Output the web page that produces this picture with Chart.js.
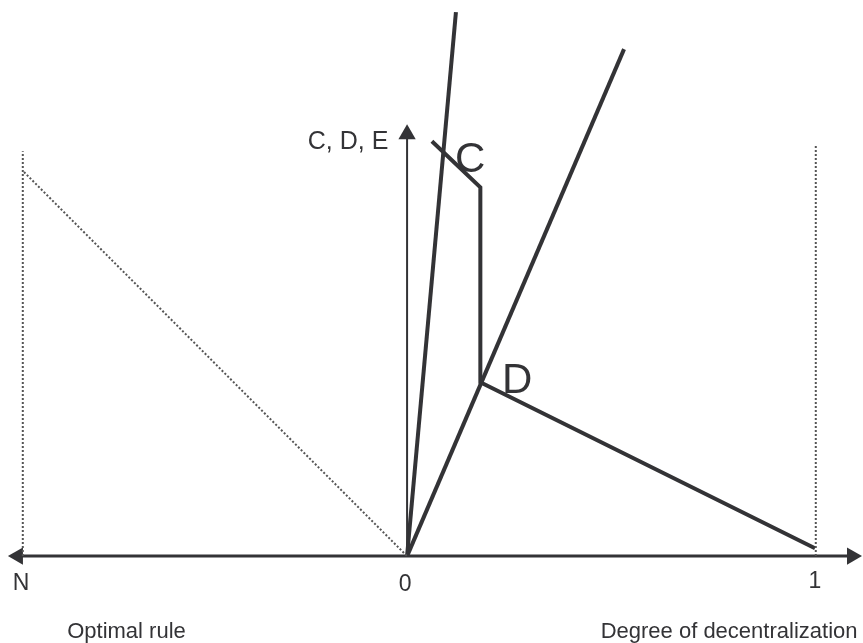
<!DOCTYPE html>
<html>
<head>
<meta charset="utf-8">
<script src="https://cdn.jsdelivr.net/npm/chart.js@4"></script>
<style>
  body { margin: 0; background: #fff; }
  canvas { display: block; }
</style>
</head>
<body>
<canvas id="chart" width="863" height="643"></canvas>
<script>
// x: N on the left, 0 at the vertical axis, 1 on the right
// y: the C, D, E axis
const steepX = [0, 0.120];
const steepY = [0, 1.252];
const shallowX = [0, 0.533];
const shallowY = [0, 1.167];
const pathX = [0.061, 0.180, 0.180, 1.002];
const pathY = [0.955, 0.849, 0.400, 0.018];
const optimalX = [-0.941, 0];
const optimalY = [0.884, 0];
const boundLeftX = [-0.944, -0.944];
const boundLeftY = [0, 0.932];
const boundRightX = [1.004, 1.004];
const boundRightY = [0, 0.948];

const labelText = ['C, D, E', 'C', 'D', 'N', '0', '1', 'Optimal rule', 'Degree of decentralization'];
const labelX = [-0.046, 0.118, 0.233, -0.948, -0.005, 1.002, -0.835, 0.791];
const labelY = [0.936, 0.884, 0.375, -0.078, -0.080, -0.074, -0.188, -0.188];

const ink = '#333336';
const font = "'Liberation Sans', Arial, sans-serif";

function pts(xs, ys) {
    return xs.map((x, i) => ({ x: x, y: ys[i] }));
}

// Text labels placed through the chart scales
const labelPlugin = {
    id: 'labels',
    afterDatasetsDraw(chart) {
        const ctx = chart.ctx;
        const sx = chart.scales.x;
        const sy = chart.scales.y;
        ctx.save();
        ctx.fillStyle = ink;
        ctx.textBaseline = 'alphabetic';
        labelText.forEach((t, i) => {
            const big = (t === 'C' || t === 'D');
            let size = 23;
            if (big) size = 42;
            else if (t === 'C, D, E') size = 25;
            else if (t.length > 8) size = 22;
            ctx.font = size + 'px ' + font;
            if (t === 'C, D, E') ctx.textAlign = 'right';
            else if (big || t === 'Optimal rule') ctx.textAlign = 'left';
            else ctx.textAlign = 'center';
            ctx.fillText(t, sx.getPixelForValue(labelX[i]), sy.getPixelForValue(labelY[i]));
        });
        ctx.restore();
    }
};

const solid = (data, width) => ({
    data: data,
    showLine: true,
    borderColor: ink,
    borderWidth: width,
    pointRadius: 0,
    borderCapStyle: 'butt',
    borderJoinStyle: 'miter'
});

const dotted = (data) => ({
    data: data,
    showLine: true,
    borderColor: '#555',
    borderWidth: 2,
    borderDash: [2, 2],
    pointRadius: 0
});

new Chart(document.getElementById('chart'), {
    type: 'scatter',
    data: {
        datasets: [
            dotted(pts(boundLeftX, boundLeftY)),
            dotted(pts(boundRightX, boundRightY)),
            dotted(pts(optimalX, optimalY)),
            // horizontal axis with arrow heads
            {
                data: [{ x: -0.956, y: 0 }, { x: 1.093, y: 0 }],
                showLine: true,
                borderColor: ink,
                backgroundColor: ink,
                borderWidth: 3,
                pointStyle: 'triangle',
                pointRadius: 10,
                pointBorderWidth: 0,
                rotation: [-90, 90]
            },
            // vertical axis with arrow head
            {
                data: [{ x: 0, y: 0 }, { x: 0, y: 0.971 }],
                showLine: true,
                borderColor: ink,
                backgroundColor: ink,
                borderWidth: 2,
                pointStyle: 'triangle',
                pointRadius: [0, 10],
                pointBorderWidth: 0
            },
            solid(pts(steepX, steepY), 4),
            solid(pts(shallowX, shallowY), 4),
            solid(pts(pathX, pathY), 4)
        ]
    },
    options: {
        responsive: false,
        animation: false,
        layout: { padding: 0, autoPadding: false },
        plugins: {
            legend: { display: false },
            tooltip: { enabled: false }
        },
        scales: {
            x: { type: 'linear', min: -1, max: 1.12, display: false },
            y: { type: 'linear', min: -0.2, max: 1.28, display: false }
        }
    },
    plugins: [labelPlugin]
});
</script>
</body>
</html>
